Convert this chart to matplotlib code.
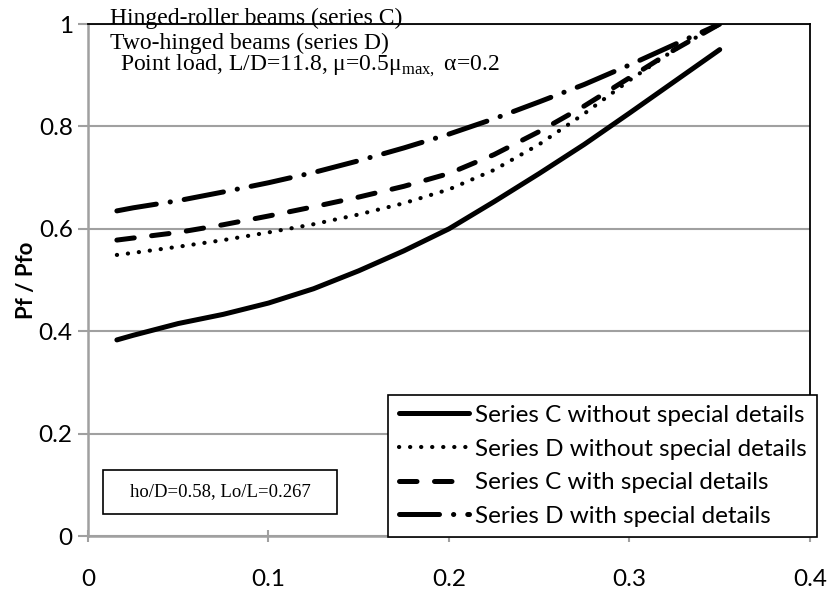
import matplotlib.pyplot as plt
from matplotlib.patches import Rectangle

plt.rcParams['mathtext.fontset'] = 'custom'
plt.rcParams['mathtext.rm'] = 'Liberation Serif'

# values
x = [0.016, 0.025, 0.05, 0.075, 0.1, 0.125, 0.15, 0.175, 0.2, 0.225, 0.25, 0.275, 0.3, 0.325, 0.35]
c_without = [0.383, 0.392, 0.415, 0.433, 0.455, 0.483, 0.518, 0.557, 0.600, 0.653, 0.708, 0.765, 0.826, 0.888, 0.95]
d_without = [0.549, 0.553, 0.565, 0.578, 0.593, 0.609, 0.628, 0.65, 0.677, 0.715, 0.765, 0.825, 0.89, 0.95, 1.0]
c_with = [0.578, 0.582, 0.593, 0.608, 0.625, 0.643, 0.662, 0.683, 0.708, 0.745, 0.79, 0.84, 0.895, 0.95, 1.0]
d_with = [0.635, 0.641, 0.655, 0.672, 0.69, 0.71, 0.733, 0.758, 0.785, 0.815, 0.848, 0.882, 0.92, 0.96, 1.0]

labels = ['Series C without special details', 'Series D without special details',
          'Series C with special details', 'Series D with special details']
xticks = [0, 0.1, 0.2, 0.3, 0.4]
yticks = [0, 0.2, 0.4, 0.6, 0.8, 1]

sans = 'Lato'
serif = 'Liberation Serif'
grey = '#a0a0a0'

fig = plt.figure(figsize=(8.27, 5.93), dpi=100)
ax = fig.add_axes([0.1064, 0.0961, 0.8730, 0.8634])

ax.plot(x, c_without, color='black', lw=3.6, solid_capstyle='round', label=labels[0])
ax.plot(x, d_without, color='black', lw=3.0, dashes=(0.05, 2.6), dash_capstyle='round', label=labels[1])
ax.plot(x, c_with, color='black', lw=3.6, dashes=(3.5, 3.5), dash_capstyle='round', label=labels[2])
ax.plot(x, d_with, color='black', lw=3.6, dashes=(8, 2.8, 0.05, 2.8), dash_capstyle='round', label=labels[3])

ax.set_xlim(0, 0.4)
ax.set_ylim(0, 1)
ax.set_xticks(xticks)
ax.set_yticks(yticks)
ax.set_xticklabels(['0', '0.1', '0.2', '0.3', '0.4'], fontfamily=sans, fontsize=17.5)
ax.set_yticklabels(['0', '0.2', '0.4', '0.6', '0.8', '1'], fontfamily=sans, fontsize=17.5)
ax.tick_params(axis='x', direction='inout', length=9, width=1.5, color=grey, pad=19)
ax.tick_params(axis='y', direction='out', length=7, width=1.5, color=grey, pad=4)
ax.yaxis.grid(True, color=grey, lw=1.5)
ax.set_axisbelow(True)

for s in ['left', 'bottom']:
    ax.spines[s].set_color(grey)
    ax.spines[s].set_linewidth(1.8)
for s in ['top', 'right']:
    ax.spines[s].set_color('black')
    ax.spines[s].set_linewidth(1.3)

ax.set_ylabel('Pf / Pfo', fontfamily=sans, fontweight='bold', fontsize=16, labelpad=1)

leg = ax.legend(loc='lower right', bbox_to_anchor=(0.988, 0.0944), bbox_transform=fig.transFigure,
                borderaxespad=0, prop={'family': sans, 'size': 17.5}, handlelength=2.9,
                handletextpad=0.25, labelspacing=0.52, borderpad=0.42, fancybox=False,
                framealpha=1, edgecolor='black')
leg.get_frame().set_linewidth(1.2)

fig.text(0.133, 0.969, 'Hinged-roller beams (series C)', fontfamily=serif, fontsize=17, va='center')
fig.text(0.133, 0.927, 'Two-hinged beams (series D)', fontfamily=serif, fontsize=17, va='center')
fig.text(0.145, 0.888, r'Point load, L/D=11.8, μ=0.5μ$_{\mathrm{max,}}$ α=0.2',
         fontfamily=serif, fontsize=17, va='center')

box = Rectangle((103 / 827, 1 - 514 / 593), 234 / 827, 44 / 593, transform=fig.transFigure,
                facecolor='white', edgecolor='black', lw=1.2)
fig.patches.append(box)
fig.text(220 / 827, 1 - 492 / 593, 'ho/D=0.58, Lo/L=0.267', fontfamily=serif, fontsize=13.5,
         ha='center', va='center')

fig.savefig('out.png', dpi=100)
